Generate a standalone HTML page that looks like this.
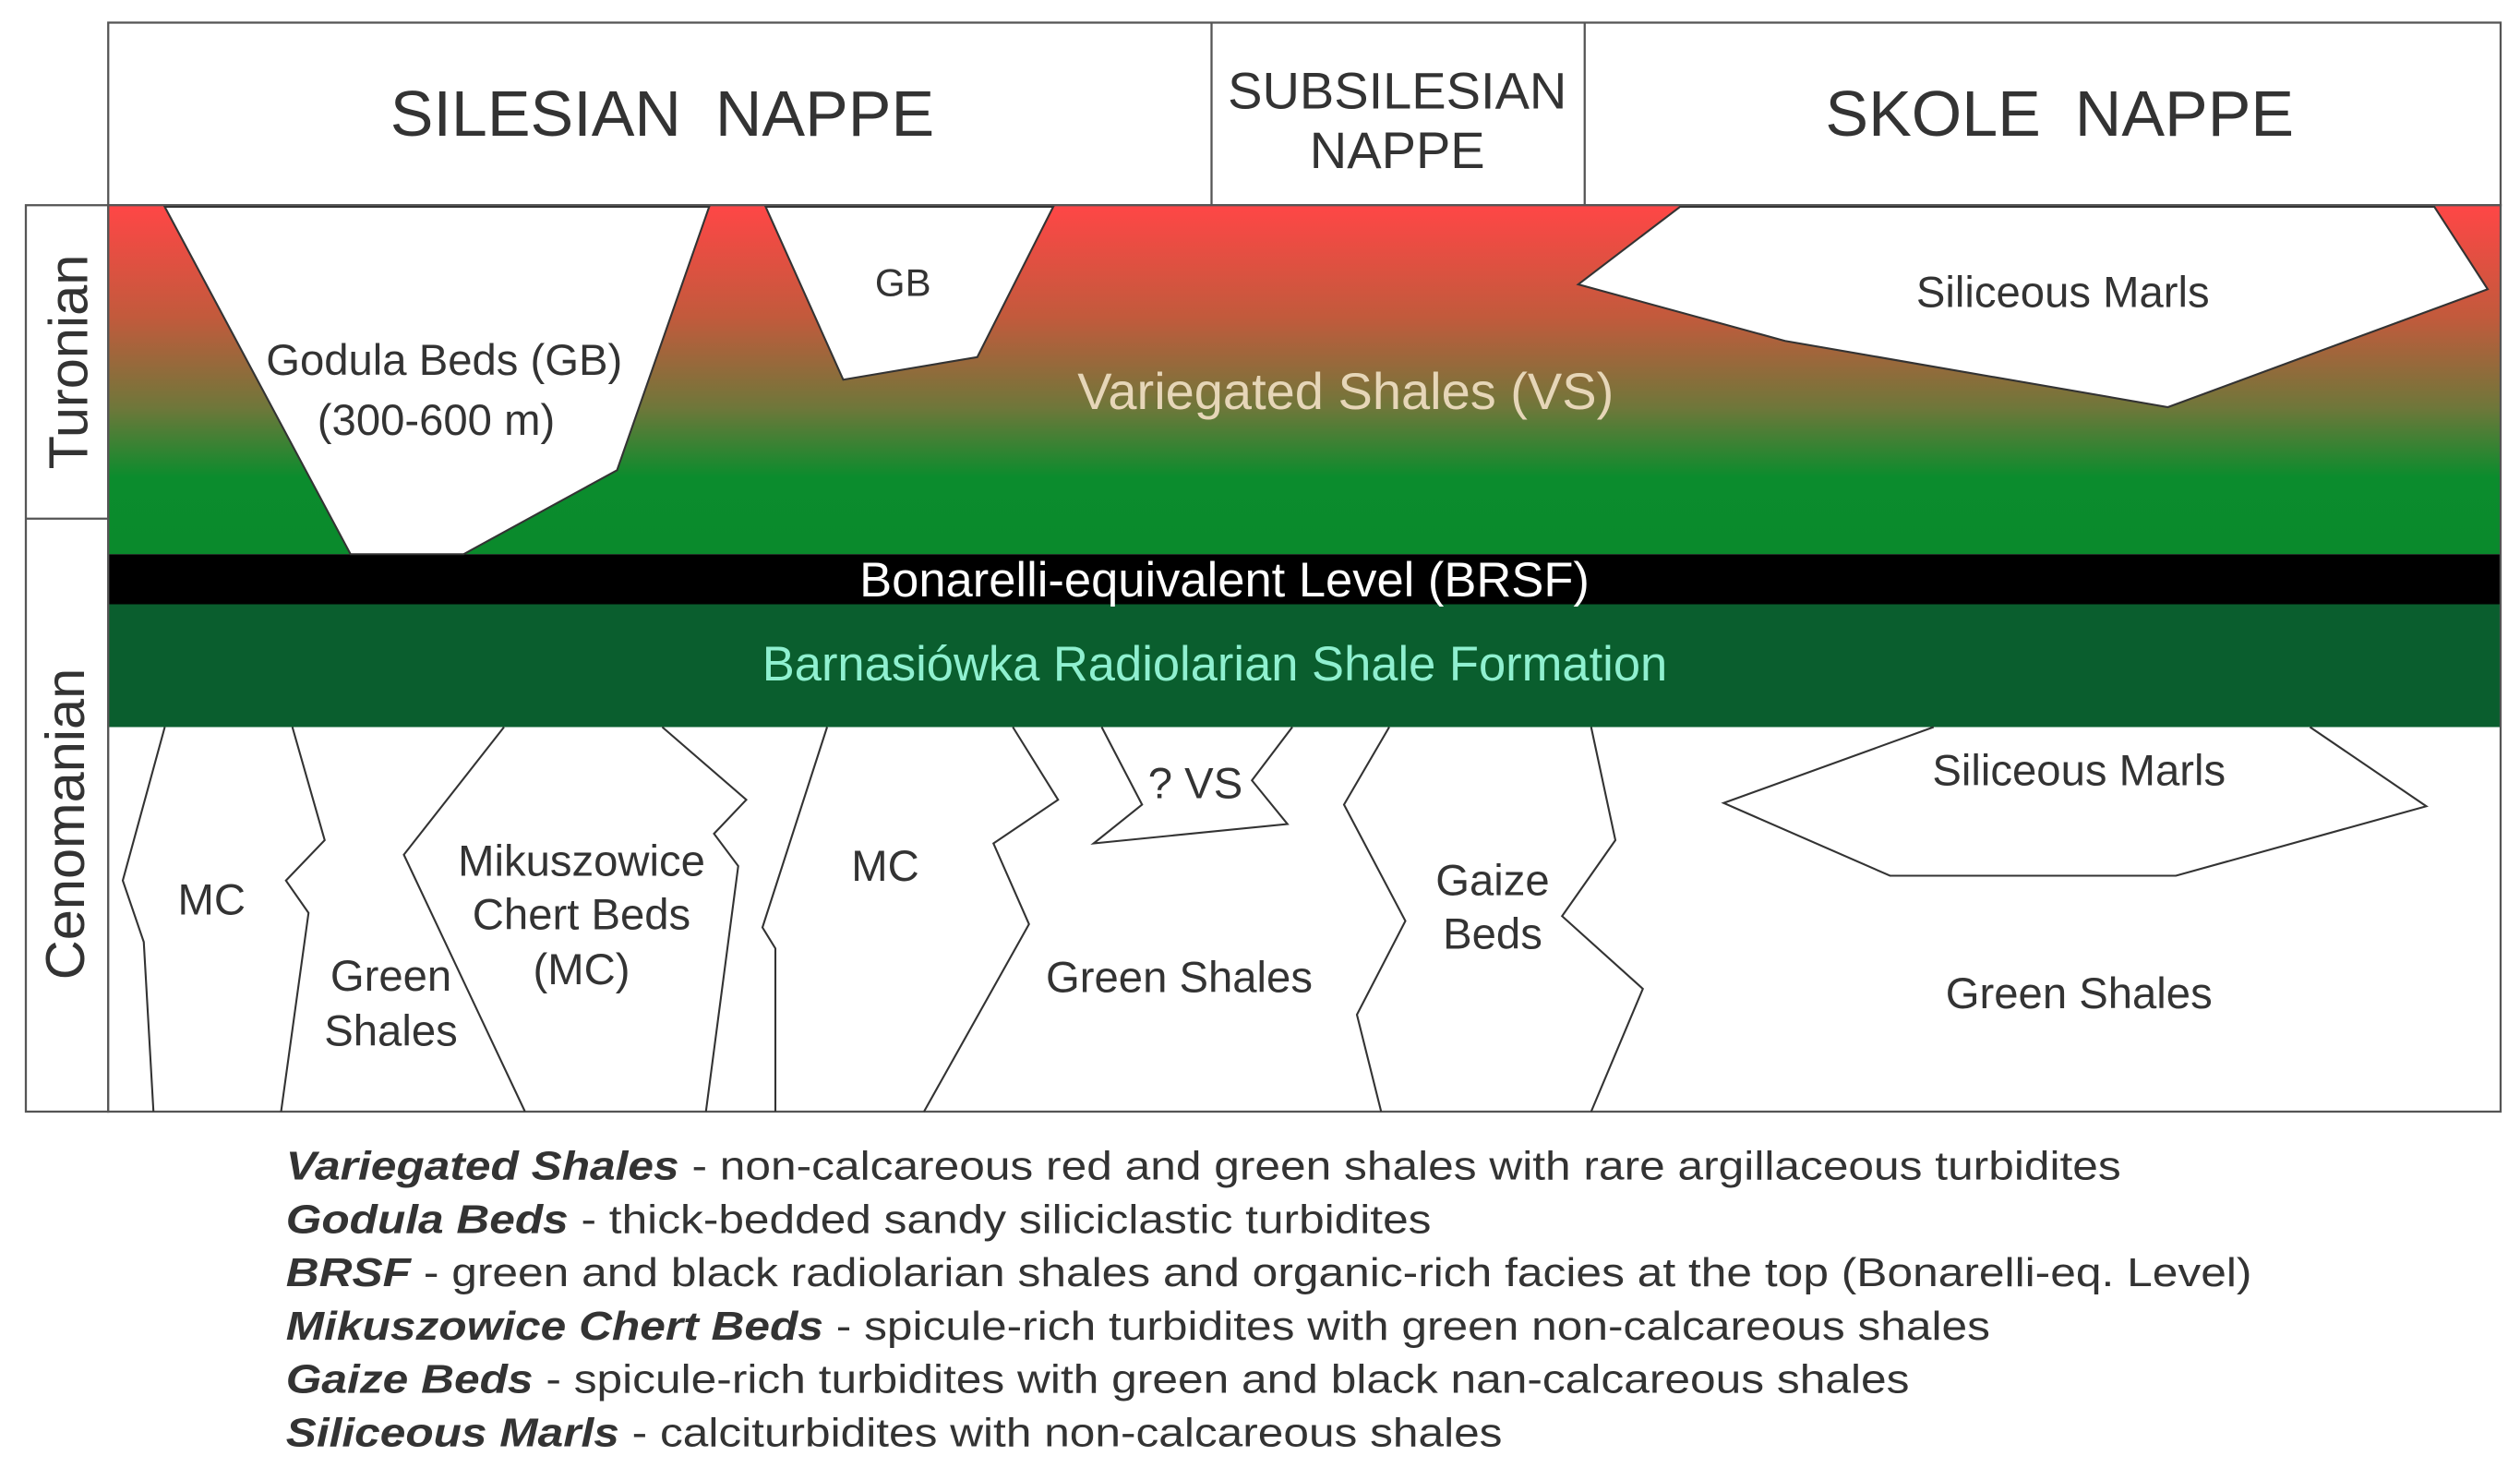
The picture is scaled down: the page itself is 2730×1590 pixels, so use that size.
<!DOCTYPE html>
<html><head><meta charset="utf-8"><style>html,body{margin:0;padding:0;background:#fff}svg{display:block}</style></head>
<body>
<svg width="2730" height="1590" viewBox="0 0 1560 908.57" preserveAspectRatio="none" xmlns="http://www.w3.org/2000/svg" font-family="Liberation Sans, Arial, sans-serif">
<defs>
<linearGradient id="g" x1="0" y1="0" x2="0" y2="1">
<stop offset="0" stop-color="#ff4646"/>
<stop offset="0.32" stop-color="#c25a3c"/>
<stop offset="0.58" stop-color="#6f773a"/>
<stop offset="0.78" stop-color="#0b8c2d"/>
<stop offset="1" stop-color="#0a8a2c"/>
</linearGradient>
</defs>
<rect x="0" y="0" width="1560" height="908.57" fill="#fff"/>
<rect x="67" y="14" width="1481" height="113" fill="#fff" stroke="#555" stroke-width="1.3"/>
<line x1="750" y1="14" x2="750" y2="127" stroke="#555" stroke-width="1.3"/>
<line x1="981" y1="14" x2="981" y2="127" stroke="#555" stroke-width="1.3"/>
<text x="410" y="84" font-size="40" text-anchor="middle" fill="#333" word-spacing="10">SILESIAN NAPPE</text>
<text x="865" y="67" font-size="32" text-anchor="middle" fill="#333">SUBSILESIAN</text>
<text x="865" y="104" font-size="32" text-anchor="middle" fill="#333">NAPPE</text>
<text x="1275" y="84" font-size="40" text-anchor="middle" fill="#333" word-spacing="10">SKOLE NAPPE</text>
<rect x="16" y="127" width="51" height="561" fill="#fff" stroke="#555" stroke-width="1.3"/>
<line x1="16" y1="321" x2="67" y2="321" stroke="#555" stroke-width="1.3"/>
<text transform="translate(54,224) rotate(-90)" font-size="34" text-anchor="middle" fill="#333">Turonian</text>
<text transform="translate(52,510) rotate(-90)" font-size="34" text-anchor="middle" fill="#333">Cenomanian</text>
<rect x="67" y="127" width="1481" height="216" fill="url(#g)"/>
<rect x="67" y="343" width="1481" height="31" fill="#000"/>
<rect x="67" y="374" width="1481" height="76" fill="#0a5e2e"/>
<rect x="67" y="450" width="1481" height="238" fill="#fff"/>
<rect x="67" y="127" width="1481" height="561" fill="none" stroke="#555" stroke-width="1.3"/>
<g fill="#fff" stroke="#333" stroke-width="1.2">
<polygon points="102,128 439,128 382,291 287,343 217,343"/>
<polygon points="474,128 652,128 605,221 522,235"/>
<polygon points="1040,128 1507,128 1540,179 1342,252 1105,211 977,176"/>
</g>
<text x="275" y="232" font-size="27" text-anchor="middle" fill="#333">Godula Beds (GB)</text>
<text x="270" y="269" font-size="27" text-anchor="middle" fill="#333">(300-600 m)</text>
<text x="559" y="183" font-size="24" text-anchor="middle" fill="#333">GB</text>
<text x="1277" y="190" font-size="27" text-anchor="middle" fill="#333">Siliceous Marls</text>
<text x="833" y="253" font-size="32" text-anchor="middle" fill="#e6d6b8">Variegated Shales (VS)</text>
<text x="758" y="369" font-size="30" text-anchor="middle" fill="#fff">Bonarelli-equivalent Level (BRSF)</text>
<text x="752" y="421" font-size="30" text-anchor="middle" fill="#8ff0d0">Barnasiówka Radiolarian Shale Formation</text>
<g fill="none" stroke="#333" stroke-width="1.2">
<polyline points="102,450 76,545 89,583 95,688"/>
<polyline points="181,450 201,520 177,545 191,565 174,688"/>
<polyline points="312,450 250,529 325,688"/>
<polyline points="410,450 462,495 442,516 457,536 437,688"/>
<polyline points="512,450 472,574 480,587 480,688"/>
<polyline points="627,450 655,495 615,522 637,572 572,688"/>
<polyline points="682,450 707,498 677,522 797,510 775,483 800,450"/>
<polyline points="860,450 832,498 870,570 840,628 855,688"/>
<polyline points="985,450 1000,520 967,567 1017,612 985,688"/>
<polyline points="1197,450 1067,497 1170,542 1347,542 1502,499 1430,450"/>
</g>
<g font-size="27" fill="#333" text-anchor="middle">
<text x="131" y="566">MC</text>
<text x="242" y="613">Green</text>
<text x="242" y="647">Shales</text>
<text x="360" y="542">Mikuszowice</text>
<text x="360" y="575">Chert Beds</text>
<text x="360" y="609">(MC)</text>
<text x="548" y="545">MC</text>
<text x="740" y="494">? VS</text>
<text x="730" y="614">Green Shales</text>
<text x="924" y="554">Gaize</text>
<text x="924" y="587">Beds</text>
<text x="1287" y="486">Siliceous Marls</text>
<text x="1287" y="624">Green Shales</text>
</g>
<g font-size="25" fill="#333">
<text x="177" y="730" textLength="1136" lengthAdjust="spacingAndGlyphs"><tspan font-weight="bold" font-style="italic">Variegated Shales</tspan> - non-calcareous red and green shales with rare argillaceous turbidites</text>
<text x="177" y="763" textLength="709" lengthAdjust="spacingAndGlyphs"><tspan font-weight="bold" font-style="italic">Godula Beds</tspan> - thick-bedded sandy siliciclastic turbidites</text>
<text x="177" y="796" textLength="1217" lengthAdjust="spacingAndGlyphs"><tspan font-weight="bold" font-style="italic">BRSF</tspan> - green and black radiolarian shales and organic-rich facies at the top (Bonarelli-eq. Level)</text>
<text x="177" y="829" textLength="1055" lengthAdjust="spacingAndGlyphs"><tspan font-weight="bold" font-style="italic">Mikuszowice Chert Beds</tspan> - spicule-rich turbidites with green non-calcareous shales</text>
<text x="177" y="862" textLength="1005" lengthAdjust="spacingAndGlyphs"><tspan font-weight="bold" font-style="italic">Gaize Beds</tspan> - spicule-rich turbidites with green and black nan-calcareous shales</text>
<text x="177" y="895" textLength="753" lengthAdjust="spacingAndGlyphs"><tspan font-weight="bold" font-style="italic">Siliceous Marls</tspan> - calciturbidites with non-calcareous shales</text>
</g>
</svg>
</body></html>
